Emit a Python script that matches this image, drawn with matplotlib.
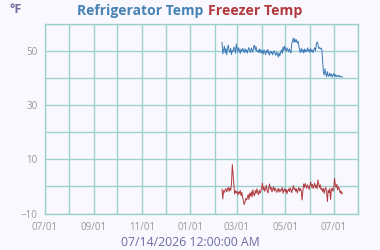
import pandas as pd
import matplotlib.pyplot as plt
import matplotlib.dates as mdates

# daily readings, Feb 10 - Jul 12 2026
fridge = [
    53.2, 49.0, 50.5, 51.8, 49.3, 50.9, 48.6, 51.2, 52.2, 50.1, 49.5, 51.0, 48.7, 50.2, 49.8, 51.5, 50.6, 49.2, 52.6,
    50.8, 49.6, 51.2, 50.3, 49.1, 50.7, 49.8, 51.0, 50.2, 49.4, 50.9, 49.7, 50.4, 49.2, 50.6, 51.3, 50.0, 49.5, 51.1,
    50.3, 49.6, 51.8, 52.1, 50.4, 51.6, 49.8, 50.2, 49.5, 50.8, 49.3, 50.6,
    49.4, 50.1, 48.9, 50.5, 49.6, 48.7, 50.2, 49.4, 50.6, 49.0, 48.5, 50.0, 49.2, 49.8, 48.6, 49.5, 50.1, 49.0,
    48.4, 49.6, 49.1, 47.8, 49.3, 48.2, 49.7, 50.4, 49.1, 51.5, 50.2, 51.8,
    50.6, 49.9, 51.2, 50.4, 49.7, 50.8, 50.0, 49.4, 52.8, 53.6, 54.8, 53.2, 54.5, 53.4, 54.2, 52.9, 53.6, 51.8,
    50.2, 49.4, 51.0, 49.7, 50.5, 49.3, 50.8, 49.6, 50.4, 49.8, 51.2, 50.0, 50.6,
    49.5, 50.9, 49.8, 50.3, 49.4, 50.7, 51.2, 50.1, 52.5, 53.4, 52.6, 51.0, 51.3, 50.8, 51.1, 50.6, 46.2, 42.0,
    41.2, 43.5, 41.6, 40.5, 42.4, 41.0, 40.6, 41.9, 40.8, 41.5, 40.4, 41.2,
    41.7, 40.6, 41.3, 40.5, 41.0, 40.7, 41.1, 40.4, 40.8, 40.5, 40.6, 40.4,
]
freezer = [
    -1.0, -4.6, -1.5, -2.2, -1.3, -0.8, -2.0, -1.2, -0.3, -1.8, -0.6, -1.4, 1.0, 8.1, 4.2, 0.5, -2.8, -1.6, -2.4,
    -1.8, -3.2, -2.0, -2.6, -1.5, -3.4, -2.2, -4.0, -5.3, -6.7, -5.8, -4.4, -5.0, -4.2, -3.0, -4.8, -2.5, -3.6,
    -2.0, -3.9, -1.2, -2.8, -3.5, -1.5, -2.6, -0.9, -2.2, -3.1, -1.4, -2.5, -1.8,
    -0.6, 1.2, -1.3, -0.2, -1.8, -0.8, 0.4, -1.6, -2.4, -0.5, 0.9, -1.1, -0.3, -2.0, -1.0, -0.1, -1.7, -0.6,
    -1.3, -2.2, -1.5, -0.7, -2.1, -1.0, -1.8, -1.2, -0.4, -2.5, -1.4, -0.8,
    -2.0, -1.1, -2.7, -1.6, -0.9, -1.9, -0.5, -1.4, -2.3, -1.0, 0.3, -1.2, -0.6, -1.8, -0.9, -2.4, -1.3, -0.4,
    -1.7, -0.8, -1.5, -5.0, -2.1, 0.9, -0.4, 1.1, 0.2, -0.7, 0.6, -0.2, -1.1,
    0.4, 1.6, -0.3, 0.8, -0.8, 0.2, 1.2, -0.5, 0.5, -0.9, 2.4, 1.0, -0.4, 0.6, -1.2, -0.6, -1.9, -0.8,
    -2.6, -1.1, -0.3, -2.0, -5.6, -1.5, -2.3, -0.8, -4.8, -1.2, -0.6, -1.8,
    -0.9, 3.0, 0.5, -0.4, 0.8, -1.3, -0.2, -0.8, -2.4, -1.6, -2.8, -2.4,
]
fridge_dates = pd.date_range('2026-02-10', periods=len(fridge), freq='D')
freezer_dates = pd.date_range('2026-02-10', periods=len(freezer), freq='D')

bg = '#f9f8fe'
grid_c = '#9fd0d0'
blue = '#3d7ab8'
red = '#b03a3e'

plt.rcParams['font.family'] = ['Open Sans', 'DejaVu Sans']

fig = plt.figure(figsize=(3.8, 2.5), dpi=100, facecolor=bg)
ax = fig.add_axes([44.5/380, 1 - 213.5/250, (358.3 - 44.5)/380, (213.5 - 24)/250])
ax.set_facecolor(bg)

ax.plot(fridge_dates, fridge, color=blue, lw=0.7)
ax.plot(freezer_dates, freezer, color=red, lw=0.7)

ax.set_xlim(pd.Timestamp('2025-07-01'), pd.Timestamp('2026-08-01'))
ax.set_ylim(-10, 60)
ax.set_yticks([-10, 10, 30, 50])
ax.set_yticks(range(-10, 61, 10), minor=True)
ax.xaxis.set_major_locator(mdates.MonthLocator(bymonth=[1, 3, 5, 7, 9, 11]))
ax.xaxis.set_minor_locator(mdates.MonthLocator())
ax.xaxis.set_major_formatter(mdates.DateFormatter('%m/%d'))

ax.grid(True, which='both', color=grid_c, lw=1)
ax.set_axisbelow(True)
for s in ax.spines.values():
    s.set_color(grid_c)
    s.set_linewidth(1)
ax.tick_params(which='both', length=0, labelsize=7, colors='#999999')
ax.tick_params(axis='y', pad=5)
ax.tick_params(axis='x', pad=6)

fig.text(203/380, 1 - 15/250, 'Refrigerator Temp', ha='right', va='baseline',
         color='#4682b4', fontsize=10, fontweight='bold')
fig.text(208/380, 1 - 15/250, 'Freezer Temp', ha='left', va='baseline',
         color=red, fontsize=10.2, fontweight='bold')
fig.text(10/380, 1 - 13/250, '°F', ha='left', va='baseline',
         color='#7070a0', fontsize=9, fontweight='bold')
fig.text(190/380, 4/250, '07/14/2026 12:00:00 AM', ha='center', va='baseline',
         color='#6c6ca4', fontsize=8.8)

fig.savefig('out.png', dpi=100, facecolor=bg)
